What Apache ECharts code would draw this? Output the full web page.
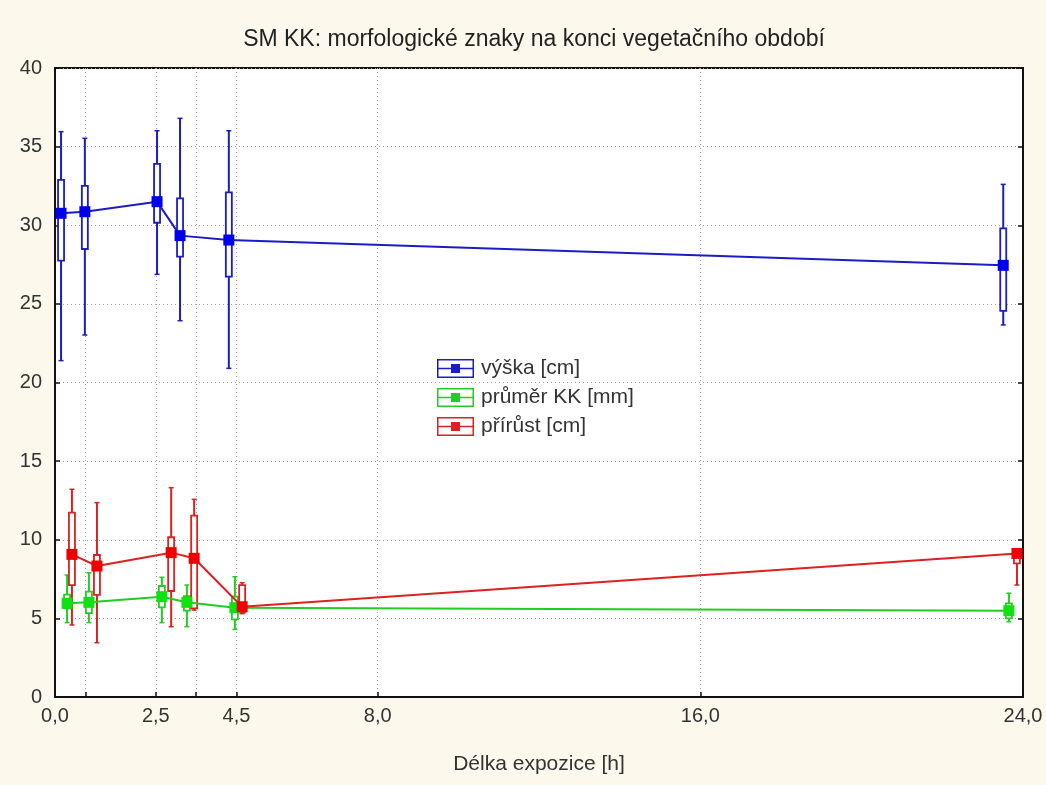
<!DOCTYPE html>
<html>
<head>
<meta charset="utf-8">
<script src="https://cdn.jsdelivr.net/npm/echarts@6/dist/echarts.min.js"></script>
<style>
  html, body { margin: 0; padding: 0; background: #fcf8ec; }
  #chart { width: 1046px; height: 785px; }
</style>
</head>
<body>
<div id="chart"></div>
<script>
// Délka expozice [h] – positions of each group (slightly offset per series)
const xVyska   = [0.15, 0.74, 2.53, 3.10, 4.31, 23.51];
const xPrumer  = [0.30, 0.84, 2.65, 3.27, 4.46, 23.65];
const xPrirust = [0.42, 1.04, 2.88, 3.45, 4.64, 23.85];

// výška [cm]
const vyskaMean     = [30.76, 30.86, 31.50, 29.34, 29.06, 27.45];
const vyskaBoxLow   = [27.75, 28.49, 30.16, 28.00, 26.73, 24.55];
const vyskaBoxHigh  = [32.88, 32.50, 33.90, 31.71, 32.09, 29.80];
const vyskaWhiskLow = [21.39, 23.02, 26.88, 23.93, 20.90, 23.66];
const vyskaWhiskHigh= [35.95, 35.53, 36.01, 36.80, 36.01, 32.60];

// průměr KK [mm]
const prumerMean     = [5.96, 6.02, 6.38, 6.02, 5.68, 5.49];
const prumerBoxLow   = [5.64, 5.34, 5.70, 5.49, 4.94, 5.00];
const prumerBoxHigh  = [6.51, 6.70, 7.06, 6.42, 6.38, 5.96];
const prumerWhiskLow = [4.73, 4.73, 4.73, 4.47, 4.30, 4.79];
const prumerWhiskHigh= [7.76, 7.90, 7.61, 7.12, 7.65, 6.60];

// přírůst [cm]
const prirustMean     = [9.07, 8.33, 9.18, 8.82, 5.74, 9.13];
const prirustBoxLow   = [7.12, 6.49, 6.74, 5.64, 5.38, 8.50];
const prirustBoxHigh  = [11.72, 9.03, 10.16, 11.53, 7.12, 9.30];
const prirustWhiskLow = [4.58, 3.45, 4.47, 5.53, 5.30, 7.12];
const prirustWhiskHigh= [13.21, 12.36, 13.31, 12.57, 7.27, 9.35];

// axis ticks
const xTickValues  = [0, 0.75, 2.5, 3.5, 4.5, 8, 16, 24];
const xLabelValues = [0, 2.5, 4.5, 8, 16, 24];

const FONT = '"Liberation Sans", Arial, sans-serif';

const seriesDefs = [
  { name: 'výška [cm]',      line: '#1c1cc4', mark: '#0000ee', x: xVyska,   mean: vyskaMean,   bl: vyskaBoxLow,   bh: vyskaBoxHigh,   wl: vyskaWhiskLow,   wh: vyskaWhiskHigh },
  { name: 'průměr KK [mm]',  line: '#22cc22', mark: '#11e011', x: xPrumer,  mean: prumerMean,  bl: prumerBoxLow,  bh: prumerBoxHigh,  wl: prumerWhiskLow,  wh: prumerWhiskHigh },
  { name: 'přírůst [cm]',    line: '#dd2020', mark: '#ee0000', x: xPrirust, mean: prirustMean, bl: prirustBoxLow, bh: prirustBoxHigh, wl: prirustWhiskLow, wh: prirustWhiskHigh }
];

function boxRenderer(color) {
  return function (params, api) {
    const x = api.value(0);
    const bl = api.coord([x, api.value(1)]);
    const bh = api.coord([x, api.value(2)]);
    const wl = api.coord([x, api.value(3)]);
    const wh = api.coord([x, api.value(4)]);
    const hw = 3, cw = 2.5;
    const st = { stroke: color, lineWidth: 2, fill: null };
    return {
      type: 'group',
      children: [
        { type: 'line', shape: { x1: wh[0], y1: wh[1], x2: bh[0], y2: bh[1] }, style: st },
        { type: 'line', shape: { x1: bl[0], y1: bl[1], x2: wl[0], y2: wl[1] }, style: st },
        { type: 'line', shape: { x1: wh[0] - cw, y1: wh[1], x2: wh[0] + cw, y2: wh[1] }, style: { stroke: color, lineWidth: 1.5 } },
        { type: 'line', shape: { x1: wl[0] - cw, y1: wl[1], x2: wl[0] + cw, y2: wl[1] }, style: { stroke: color, lineWidth: 1.5 } },
        { type: 'rect', shape: { x: bh[0] - hw, y: bh[1], width: hw * 2, height: bl[1] - bh[1] },
          style: { fill: '#ffffff', stroke: color, lineWidth: 1.8 } }
      ]
    };
  };
}

const series = [];
seriesDefs.forEach(function (d) {
  series.push({
    name: d.name,
    type: 'custom',
    renderItem: boxRenderer(d.line),
    data: d.x.map(function (x, i) { return [x, d.bl[i], d.bh[i], d.wl[i], d.wh[i]]; }),
    encode: { x: 0, y: [1, 2, 3, 4] },
    itemStyle: { color: d.line },
    clip: false,
    silent: true,
    z: 2
  });
  series.push({
    name: d.name,
    type: 'line',
    data: d.x.map(function (x, i) { return [x, d.mean[i]]; }),
    symbol: 'rect',
    symbolSize: 11,
    showSymbol: true,
    clip: false,
    lineStyle: { color: d.line, width: 2 },
    itemStyle: { color: d.mark, borderWidth: 0 },
    emphasis: { disabled: true },
    z: 3
  });
});

// legend icon: framed rectangle with a line through it and a square in the middle
const legendIcon = 'path://M0,0 L37,0 L37,19 L0,19 Z ' +
  'M1.5,1.5 L1.5,17.5 L35.5,17.5 L35.5,1.5 Z ' +
  'M1.5,8.75 L35.5,8.75 L35.5,10.25 L1.5,10.25 Z ' +
  'M14,5 L23,5 L23,14 L14,14 Z';

const fmt1 = function (v) { return v.toFixed(1).replace('.', ','); };

const option = {
  backgroundColor: '#fcf8ec',
  animation: false,
  title: {
    text: 'SM KK: morfologické znaky na konci vegetačního období',
    left: 529,
    top: 23,
    textAlign: 'center',
    textStyle: { fontFamily: FONT, fontSize: 23, fontWeight: 'normal', color: '#222' }
  },
  legend: {
    orient: 'vertical',
    left: 432,
    top: 353,
    itemWidth: 37,
    itemHeight: 19,
    itemGap: 8,
    icon: legendIcon,
    itemStyle: { borderWidth: 0 },
    textStyle: { fontFamily: FONT, fontSize: 21, color: '#333', padding: [0, 0, 0, 2] },
    data: seriesDefs.map(function (d) { return { name: d.name, itemStyle: { color: d.line } }; }),
    selectedMode: false
  },
  grid: {
    left: 55, top: 68, width: 968, height: 629,
    show: true, backgroundColor: '#ffffff', borderColor: '#111', borderWidth: 2
  },
  xAxis: {
    type: 'value',
    min: 0, max: 24,
    name: 'Délka expozice [h]',
    nameLocation: 'middle',
    nameGap: 57,
    nameTextStyle: { fontFamily: FONT, fontSize: 21, color: '#333' },
    axisLine: { lineStyle: { color: '#111', width: 2 } },
    axisTick: { inside: true, length: 5, customValues: xTickValues, lineStyle: { color: '#111', width: 1.5 } },
    axisLabel: { customValues: xLabelValues, formatter: fmt1, fontFamily: FONT, fontSize: 20, color: '#333', margin: 9 },
    splitLine: { show: true, lineStyle: { color: '#a0a0a0', type: [1, 3], width: 1 } }
  },
  yAxis: [{
    type: 'value',
    min: 0, max: 40, interval: 5,
    axisLine: { show: true, lineStyle: { color: '#111', width: 2 } },
    axisTick: { show: true, inside: true, length: 5, lineStyle: { color: '#111', width: 1.5 } },
    axisLabel: { fontFamily: FONT, fontSize: 20, color: '#333', margin: 13 },
    splitLine: { show: true, lineStyle: { color: '#a0a0a0', type: [1, 3], width: 1 } }
  }, {
    type: 'value',
    position: 'right',
    min: 0, max: 40, interval: 5,
    axisLine: { show: true, lineStyle: { color: '#111', width: 2 } },
    axisTick: { show: true, inside: true, length: 5, lineStyle: { color: '#111', width: 1.5 } },
    axisLabel: { show: false },
    splitLine: { show: false }
  }],
  series: series
};

const chart = echarts.init(document.getElementById('chart'), null, { renderer: 'canvas' });
chart.setOption(option);
</script>
</body>
</html>
